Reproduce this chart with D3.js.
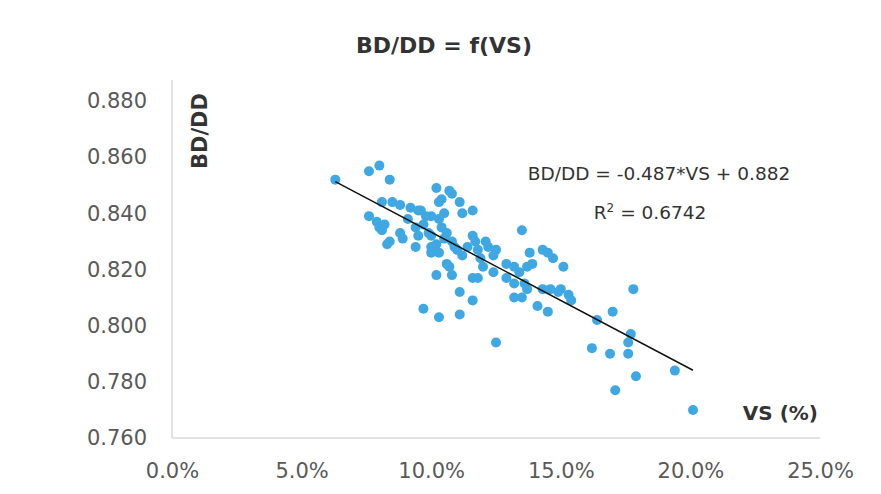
<!DOCTYPE html>
<html>
<head>
	<title>BD/DD = f(VS)</title>
	<script src="https://cdnjs.cloudflare.com/ajax/libs/d3/7.8.5/d3.min.js"></script>
</head>
<style>
body{
	margin: 0;
	background: #ffffff;
}
.chart text{
	font-family: 'DejaVu Sans', sans-serif;
}
.tick text{
	fill: #595959;
	font-size: 21px;
}
.title, .axisTitle{
	fill: #333333;
	font-weight: bold;
}
.eq{
	fill: #333333;
	font-size: 18.5px;
}
</style>
<body>
<svg class="chart"></svg>
</body>
<script>
// values: volumetric shrinkage (VS) and BD/DD ratio
var vs = [0.063, 0.076, 0.080, 0.084, 0.081, 0.085, 0.088, 0.076, 0.079, 0.080,
	0.082, 0.081, 0.083, 0.084, 0.088, 0.089, 0.094, 0.095, 0.094, 0.092,
	0.095, 0.096, 0.098, 0.102, 0.103, 0.104, 0.107, 0.108, 0.111, 0.116,
	0.112, 0.100, 0.103, 0.104, 0.105, 0.099, 0.100, 0.102, 0.100, 0.100,
	0.103, 0.106, 0.107, 0.108, 0.102, 0.105, 0.108, 0.109, 0.110, 0.112,
	0.114, 0.116, 0.117, 0.118, 0.120, 0.121, 0.122, 0.124, 0.125, 0.124,
	0.116, 0.118, 0.111, 0.116, 0.097, 0.103, 0.111, 0.125, 0.129, 0.132,
	0.134, 0.137, 0.139, 0.138, 0.145, 0.151, 0.129, 0.132, 0.136, 0.132,
	0.135, 0.137, 0.143, 0.146, 0.150, 0.149, 0.153, 0.154, 0.141, 0.145,
	0.178, 0.170, 0.164, 0.177, 0.176, 0.162, 0.169, 0.176, 0.179, 0.171,
	0.194, 0.201, 0.135, 0.143, 0.147, 0.091, 0.097, 0.106, 0.119];
var bdd = [0.852, 0.855, 0.857, 0.852, 0.844, 0.844, 0.843, 0.839, 0.837, 0.835,
	0.836, 0.834, 0.829, 0.830, 0.833, 0.831, 0.835, 0.832, 0.828, 0.842,
	0.841, 0.841, 0.839, 0.849, 0.844, 0.845, 0.848, 0.847, 0.844, 0.841,
	0.840, 0.839, 0.838, 0.835, 0.840, 0.833, 0.832, 0.829, 0.828, 0.826,
	0.826, 0.822, 0.821, 0.818, 0.818, 0.831, 0.830, 0.828, 0.827, 0.825,
	0.828, 0.832, 0.830, 0.827, 0.821, 0.830, 0.828, 0.825, 0.827, 0.819,
	0.817, 0.817, 0.812, 0.809, 0.806, 0.803, 0.804, 0.794, 0.822, 0.821,
	0.819, 0.821, 0.822, 0.826, 0.826, 0.821, 0.817, 0.815, 0.815, 0.810,
	0.810, 0.813, 0.813, 0.813, 0.813, 0.812, 0.811, 0.809, 0.807, 0.805,
	0.813, 0.805, 0.802, 0.797, 0.794, 0.792, 0.790, 0.790, 0.782, 0.777,
	0.784, 0.770, 0.834, 0.827, 0.824, 0.838, 0.836, 0.833, 0.824];

var xTicks = [0, 0.05, 0.10, 0.15, 0.20, 0.25];
var yTicks = [0.760, 0.780, 0.800, 0.820, 0.840, 0.860, 0.880];

// linear trend shown on the chart
var slope = -0.487,
	intercept = 0.882,
	r2 = 0.6742;

var width = 881,
	height = 494;

var chart = d3.select(".chart")
	.attr("width", width)
	.attr("height", height);

var x = d3.scaleLinear()
	.domain([0, 0.25])
	.range([172, 820]);

var y = d3.scaleLinear()
	.domain([0.76, 0.88])
	.range([438, 101]);

// light grey axis lines
chart.append("line")
	.attr("x1", x(0)).attr("x2", x(0.25))
	.attr("y1", y(0.76)).attr("y2", y(0.76))
	.attr("stroke", "#d9d9d9")
	.attr("stroke-width", 1.5);

chart.append("line")
	.attr("x1", x(0)).attr("x2", x(0))
	.attr("y1", 80).attr("y2", y(0.76))
	.attr("stroke", "#d9d9d9")
	.attr("stroke-width", 1.5);

var xAxis = d3.axisBottom(x)
	.tickValues(xTicks)
	.tickSize(0)
	.tickPadding(0)
	.tickFormat(d3.format(".1%"));

var yAxis = d3.axisLeft(y)
	.tickValues(yTicks)
	.tickSize(0)
	.tickPadding(0)
	.tickFormat(d3.format(".3f"));

var gx = chart.append("g")
	.attr("transform", "translate(0,471)")
	.call(xAxis);
gx.select(".domain").remove();
gx.selectAll("text").attr("dy", "0.35em").attr("y", 0);

var gy = chart.append("g")
	.attr("transform", "translate(147,0)")
	.call(yAxis);
gy.select(".domain").remove();

// dots
var pts = vs.map(function(d, i){ return {vs: d, bdd: bdd[i]}; });

chart.selectAll("circle")
	.data(pts)
	.enter()
	.append("circle")
	.attr("cx", function(d){ return x(d.vs); })
	.attr("cy", function(d){ return y(d.bdd); })
	.attr("r", 5)
	.attr("fill", "#3fa8e2");

// trend line over the data range
var ext = d3.extent(vs);
chart.append("line")
	.attr("x1", x(ext[0])).attr("y1", y(slope * ext[0] + intercept))
	.attr("x2", x(ext[1])).attr("y2", y(slope * ext[1] + intercept))
	.attr("stroke", "#111111")
	.attr("stroke-width", 1.5);

// titles and equation
chart.append("text")
	.attr("class", "title")
	.attr("x", 444)
	.attr("y", 53)
	.attr("text-anchor", "middle")
	.style("font-size", "22px")
	.text("BD/DD = f(VS)");

chart.append("text")
	.attr("class", "axisTitle")
	.attr("transform", "translate(207,131) rotate(-90)")
	.attr("text-anchor", "middle")
	.style("font-size", "21px")
	.text("BD/DD");

chart.append("text")
	.attr("class", "axisTitle")
	.attr("x", 818)
	.attr("y", 420)
	.attr("text-anchor", "end")
	.style("font-size", "20px")
	.text("VS (%)");

chart.append("text")
	.attr("class", "eq")
	.attr("x", 659)
	.attr("y", 180)
	.attr("text-anchor", "middle")
	.text("BD/DD = " + slope + "*VS + " + intercept);

var r2Text = chart.append("text")
	.attr("class", "eq")
	.attr("x", 650)
	.attr("y", 219)
	.attr("text-anchor", "middle");
r2Text.append("tspan").text("R");
r2Text.append("tspan").attr("dy", -7).style("font-size", "12px").text("2");
r2Text.append("tspan").attr("dy", 7).text(" = " + r2);
</script>
</html>
